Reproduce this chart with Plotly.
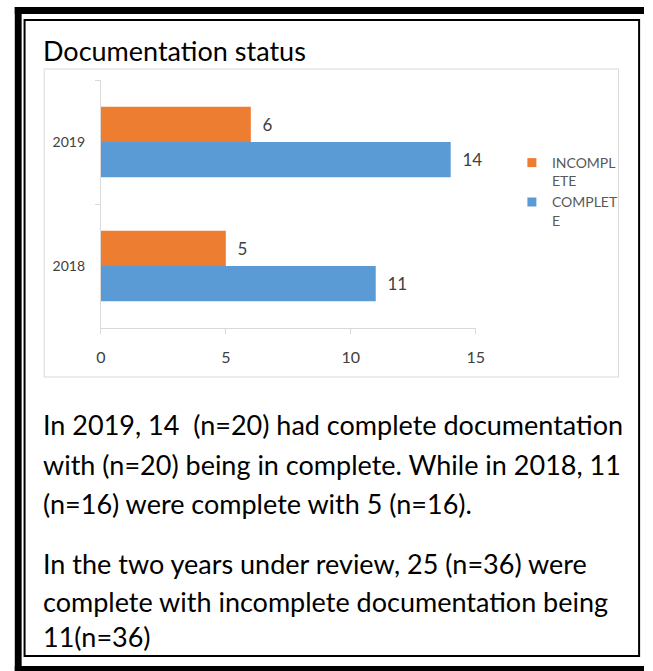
import plotly.graph_objects as go

# ---- data ----
years = ["2018", "2019"]
complete = [11, 14]
incomplete = [5, 6]
x_ticks = [0, 5, 10, 15]
legend_names = {"incomplete": "INCOMPL<br>ETE", "complete": "COMPLET<br>E"}
title_text = "Documentation status"
para_lines = [
    "In 2019, 14\u00a0\u00a0(n=20) had complete documentation",
    "with (n=20) being in complete. While in 2018, 11",
    "(n=16) were complete with 5 (n=16).",
    "In the two years under review, 25 (n=36) were",
    "complete with incomplete documentation being",
    "11(n=36)",
]

ORANGE = "#ED7D31"
BLUE = "#5B9BD5"
W, H = 653, 671
FONT = "Lato"


def px(x):
    return x / W


def py(y):
    return 1 - y / H


def bar_rect(x0, y0, x1, y1, color="black"):
    return dict(type="rect", xref="paper", yref="paper",
                x0=px(x0), x1=px(x1), y0=py(y1), y1=py(y0),
                fillcolor=color, line=dict(width=0))


fig = go.Figure()
fig.add_trace(go.Bar(
    y=years, x=complete, orientation="h", name=legend_names["complete"],
    marker=dict(color=BLUE, line=dict(width=0)),
    texttemplate="\u00a0\u00a0%{x}", textposition="outside",
    textfont=dict(family=FONT, size=17, color="#404040"),
    cliponaxis=False, showlegend=False,
))
fig.add_trace(go.Bar(
    y=years, x=incomplete, orientation="h", name=legend_names["incomplete"],
    marker=dict(color=ORANGE, line=dict(width=0)),
    texttemplate="\u00a0\u00a0%{x}", textposition="outside",
    textfont=dict(family=FONT, size=17, color="#404040"),
    cliponaxis=False, showlegend=False,
))
# legend entries (small squares like the original)
for key, col in (("incomplete", ORANGE), ("complete", BLUE)):
    fig.add_trace(go.Scatter(
        x=[None], y=[None], mode="markers", name=legend_names[key],
        marker=dict(symbol="square", size=9, color=col),
    ))

shapes = [
    # outer thick frame (top, left, bottom), kept inside the page
    bar_rect(10, 7, W, 14),
    bar_rect(10, 7, 17, H),
    bar_rect(10, 666, W, H),
    # inner thin frame
    dict(type="rect", xref="paper", yref="paper", x0=px(20), x1=px(648),
         y0=py(656), y1=py(20), line=dict(color="black", width=2)),
    # chart area border
    dict(type="rect", xref="paper", yref="paper", x0=px(40), x1=px(627),
         y0=py(377), y1=py(69), line=dict(color="#d9d9d9", width=1)),
]

annotations = [
    dict(text=title_text, x=px(37), y=py(50), xref="paper", yref="paper",
         xanchor="left", yanchor="middle", showarrow=False,
         font=dict(family=FONT, size=27, color="#000000")),
]
line_y = [424, 464, 503, 563, 601, 636]
for t, yy in zip(para_lines, line_y):
    annotations.append(dict(
        text=t, x=px(37), y=py(yy), xref="paper", yref="paper",
        xanchor="left", yanchor="middle", showarrow=False,
        font=dict(family=FONT, size=27, color="#000000"),
    ))

fig.update_layout(
    width=W, height=H,
    margin=dict(l=0, r=0, t=0, b=0),
    paper_bgcolor="white", plot_bgcolor="white",
    barmode="group", bargap=0.43, bargroupgap=0,
    font=dict(family=FONT, color="#595959"),
    xaxis=dict(
        domain=[px(98), px(481)], range=[0, 15], tickvals=x_ticks,
        showgrid=False, zeroline=False, showline=True, linecolor="#d9d9d9",
        linewidth=1, ticks="outside", ticklen=5, tickcolor="#d9d9d9",
        tickfont=dict(family=FONT, size=16, color="#404040"),
        ticklabelstandoff=10, fixedrange=True,
    ),
    yaxis=dict(
        domain=[py(328), py(80)], type="category", categoryorder="array",
        categoryarray=years, showgrid=False, zeroline=False, showline=True,
        linecolor="#d9d9d9", linewidth=1, ticks="outside", ticklen=5,
        tickcolor="#d9d9d9", tickson="boundaries",
        tickfont=dict(family=FONT, size=14, color="#404040"),
        ticklabelstandoff=12, fixedrange=True,
    ),
    legend=dict(
        x=px(518), y=py(147), xanchor="left", yanchor="top",
        font=dict(family=FONT, size=14, color="#595959"),
        traceorder="normal", valign="top", bgcolor="rgba(0,0,0,0)",
        itemwidth=30, tracegroupgap=4,
    ),
    shapes=shapes,
    annotations=annotations,
)

fig.write_html(
    "out.html",
    config={"displayModeBar": False},
    post_script="document.body.style.margin='0';document.body.style.padding='0';"
                "document.body.style.overflow='hidden';"
                "document.documentElement.style.overflow='hidden';",
)
